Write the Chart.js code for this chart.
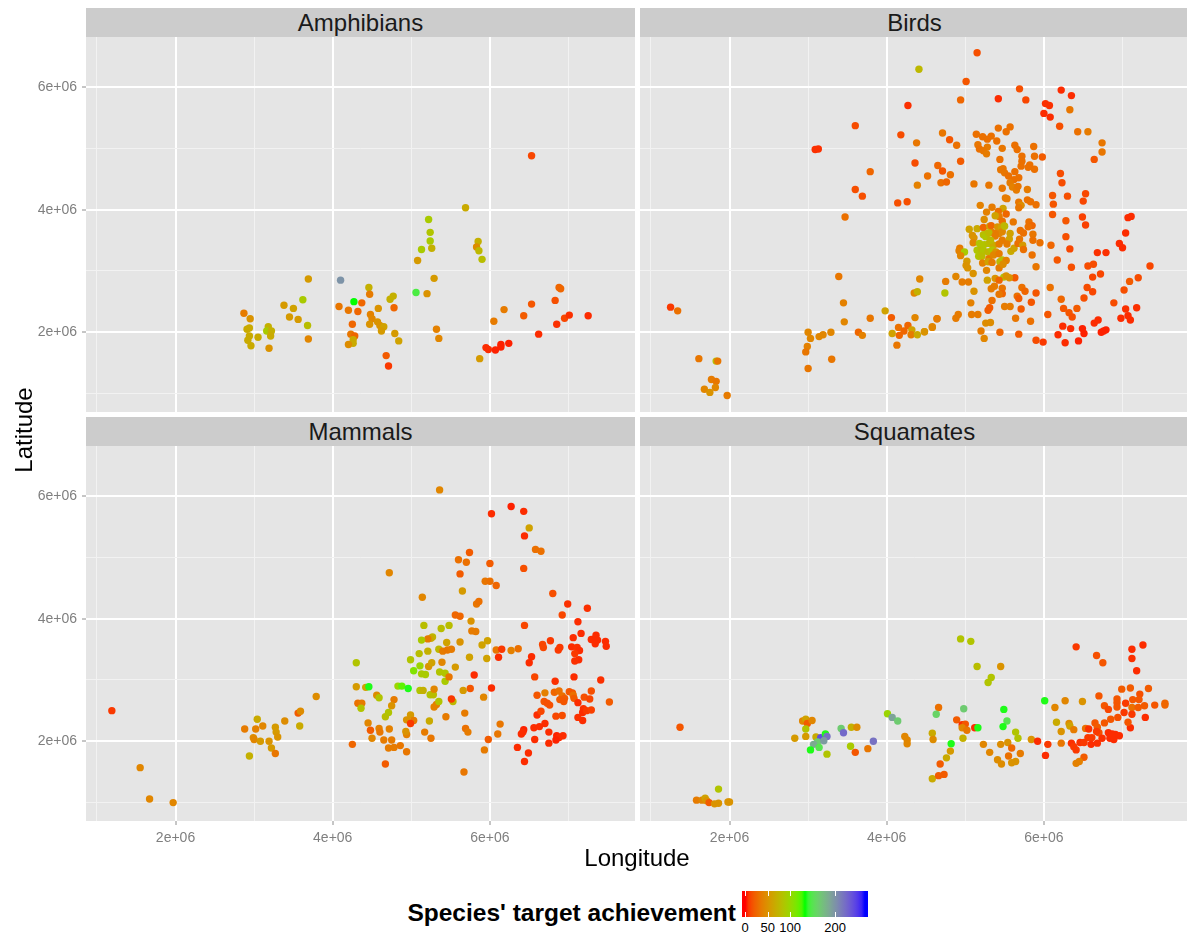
<!DOCTYPE html>
<html>
<head>
<meta charset="utf-8">
<title>Species' target achievement</title>
<script src="https://cdn.jsdelivr.net/npm/chart.js@4.4.1/dist/chart.umd.min.js"></script>
<style>
  body { margin: 0; width: 1187px; height: 938px; background: #fff; position: relative; overflow: hidden;
         font-family: "Liberation Sans", Arial, sans-serif; }
  canvas { position: absolute; }
  .strip { position: absolute; height: 29px; background: #cccccc; color: #1a1a1a;
           font-size: 24px; line-height: 29px; text-align: center; }
  .axis-title { position: absolute; font-size: 24px; line-height: 28px; text-align: center; color: #000; }
  #legend-title { position: absolute; right: 451px; top: 901px; font-size: 24.5px; line-height: 24px; font-weight: bold; white-space: nowrap; }
  #legend-bar { position: absolute; left: 742px; top: 891px; width: 126px; height: 26px; }
  .legend-tick { position: absolute; width: 1px; height: 5px; background: #fff; }
  .legend-label { position: absolute; top: 921px; font-size: 13px; line-height: 14px; width: 40px; margin-left: -20px; text-align: center; color: #000; }
</style>
</head>
<body>
<div class="strip" style="left:86px;top:8px;width:549px">Amphibians</div>
<div class="strip" style="left:640px;top:8px;width:549px">Birds</div>
<div class="strip" style="left:86px;top:417px;width:549px">Mammals</div>
<div class="strip" style="left:640px;top:417px;width:549px">Squamates</div>

<canvas id="amphibians" width="635" height="375" style="left:0;top:37px"></canvas>
<canvas id="birds" width="549" height="375" style="left:640px;top:37px"></canvas>
<canvas id="mammals" width="635" height="415" style="left:0;top:446px"></canvas>
<canvas id="squamates" width="549" height="415" style="left:640px;top:446px"></canvas>

<div class="axis-title" style="left:-76px;top:416px;width:200px;transform:rotate(-90deg)">Latitude</div>
<div class="axis-title" style="left:487px;top:844px;width:300px">Longitude</div>

<div id="legend-title">Species' target achievement</div>
<div id="legend-bar"></div>

<script>
// Points per taxon: [longitude (millions), latitude (millions), target achievement %]
const amphibians = [
  [6.53,4.88,12],[5.69,4.03,66],[5.22,3.84,90],[5.24,3.63,85],[5.24,3.49,90],[5.13,3.35,90],
  [5.26,3.37,70],[5.08,3.17,55],[5.85,3.48,70],[5.83,3.39,46],[5.86,3.33,76],[5.90,3.19,80],
  [5.29,2.88,55],[5.06,2.65,145],[5.20,2.63,50],[5.32,2.05,39],[5.35,1.90,42],[5.87,1.57,55],
  [6.05,2.18,36],[6.18,2.37,36],[5.95,1.75,5],[5.98,1.72,5],[6.07,1.71,3],[6.14,1.80,3],
  [6.14,1.76,3],[6.24,1.82,3],[6.43,2.27,20],[6.53,2.46,18],[6.62,1.97,5],[6.83,2.52,15],
  [6.88,2.73,25],[6.90,2.71,25],[6.85,2.13,6],[6.95,2.23,12],[7.01,2.28,6],[7.25,2.27,5],
  [4.10,2.85,200],[4.27,2.50,133],[4.46,2.73,70],[4.47,2.62,36],[4.37,2.48,25],[4.08,2.42,33],
  [4.20,2.36,33],[4.32,2.34,25],[4.58,2.39,50],[4.73,2.54,70],[4.77,2.59,70],[4.78,2.40,25],
  [4.48,2.29,39],[4.50,2.22,42],[4.47,2.13,50],[4.57,2.17,50],[4.60,2.11,50],[4.65,2.09,60],
  [4.62,2.02,55],[4.79,1.98,55],[4.84,1.86,60],[4.25,2.13,25],[4.23,1.97,33],[4.28,1.94,25],
  [4.26,1.88,66],[4.26,1.82,66],[4.20,1.80,46],[4.68,1.62,20],[4.71,1.45,8],[3.69,2.87,55],
  [3.62,2.53,90],[3.38,2.44,55],[3.50,2.39,60],[3.45,2.25,55],[3.56,2.21,55],[3.68,2.11,80],
  [3.69,1.89,42],[2.87,2.31,36],[2.95,2.22,50],[2.91,2.05,66],[2.94,2.07,66],[2.94,1.94,66],
  [2.92,1.87,66],[2.96,1.78,66],[3.05,1.92,66],[3.18,2.09,70],[3.16,2.02,90],[3.22,2.02,70],
  [3.21,1.94,66],[3.19,1.74,50]
];

const birds = [
  [4.41,6.29,76],[4.27,5.70,6],[3.60,5.37,14],[4.18,5.22,14],[4.38,5.09,33],[3.09,4.98,6],
  [3.13,4.99,6],[4.36,4.76,14],[4.65,4.72,25],[4.52,4.55,30],[4.39,4.40,39],[3.79,4.62,25],
  [3.60,4.33,15],[3.69,4.22,15],[4.14,4.11,15],[4.26,4.13,15],[3.47,3.88,30],[3.39,2.91,33],
  [3.45,2.48,39],[3.46,2.17,42],[4.42,2.87,42],[4.35,2.64,42],[4.39,2.66,70],[3.98,2.35,60],
  [3.79,2.23,33],[4.06,2.24,20],[4.36,2.24,42],[4.64,2.22,36],[4.15,2.08,30],[4.27,2.11,25],
  [4.22,2.02,25],[4.32,2.04,60],[4.07,1.98,60],[4.16,1.95,25],[4.31,1.96,36],[4.39,1.96,66],
  [4.48,2.01,50],[4.58,2.08,42],[4.13,1.79,33],[3.64,2.00,25],[3.69,1.95,39],[3.30,1.56,33],
  [3.29,2.00,42],[3.00,2.00,42],[3.03,1.90,42],[3.14,1.93,42],[3.19,1.96,42],[2.99,1.77,39],
  [2.97,1.68,33],[3.00,1.41,33],[1.25,2.41,8],[1.34,2.35,30],[1.61,1.57,33],[1.83,1.53,80],
  [1.85,1.53,33],[1.77,1.23,36],[1.83,1.20,33],[1.82,1.10,42],[1.68,1.07,42],[1.75,1.02,50],
  [1.97,0.97,36],[4.71,5.25,33],
  [5.15,6.56,15],[5.01,6.09,18],[4.94,5.79,25],[5.69,5.97,15],[5.42,5.81,5],[5.77,5.79,12],
  [6.22,5.95,5],[6.35,5.86,5],[6.02,5.73,6],[6.07,5.70,6],[6.00,5.57,5],[6.08,5.51,5],
  [6.33,5.63,33],[6.20,5.36,15],[6.43,5.27,30],[6.56,5.27,36],[6.74,5.09,33],[6.74,4.94,33],
  [6.64,4.82,18],[4.80,5.14,18],[4.89,5.05,30],[4.94,4.79,20],[4.71,4.63,18],[4.81,4.57,30],
  [4.69,4.44,30],[4.76,4.45,25],[5.14,5.23,30],[5.22,5.19,30],[5.28,5.15,30],[5.33,5.20,30],
  [5.42,5.33,30],[5.52,5.27,30],[5.57,5.35,30],[5.16,5.06,33],[5.28,5.02,36],[5.18,4.99,30],
  [5.23,4.96,33],[5.27,4.91,36],[5.40,5.12,30],[5.47,5.00,33],[5.63,5.05,30],[5.66,4.98,30],
  [5.87,5.03,30],[5.88,4.87,30],[5.98,4.86,20],[5.72,4.87,30],[5.72,4.79,30],[5.71,4.71,30],
  [5.44,4.82,30],[5.82,4.73,30],[5.80,4.69,30],[5.88,4.66,30],[5.45,4.65,33],[5.48,4.67,33],
  [5.50,4.60,33],[5.55,4.55,30],[5.62,4.49,30],[5.68,4.52,30],[5.63,4.62,30],[5.57,4.44,36],
  [5.60,4.37,39],[5.65,4.32,36],[5.67,4.38,33],[5.47,4.35,33],[5.30,4.40,33],[5.11,4.42,33],
  [5.79,4.33,36],[5.51,4.19,36],[5.53,4.18,36],[5.79,4.16,30],[5.83,4.13,30],[5.90,4.08,30],
  [5.68,4.12,33],[5.71,4.07,46],[5.68,4.03,33],[5.19,4.07,39],[5.34,4.04,36],[5.48,4.02,60],
  [6.11,4.23,18],[6.12,4.09,18],[6.21,4.59,14],[6.23,4.44,14],[6.30,4.22,15],[6.53,4.26,12],
  [6.50,4.14,12],[6.11,3.92,18],[6.28,3.82,18],[6.49,3.88,10],[6.53,3.75,10],[7.07,3.87,5],
  [7.11,3.89,5],[7.04,3.62,5],[6.96,3.45,5],[7.00,3.38,5],[6.68,3.30,6],[6.79,3.30,6],
  [7.35,3.08,12],[6.28,3.56,15],[6.33,3.36,12],[6.09,3.42,25],[5.95,3.46,30],[6.17,3.18,18],
  [6.35,3.06,15],[6.56,3.08,14],[6.63,3.11,14],[6.62,2.90,12],[6.72,2.95,12],[7.09,2.83,20],
  [7.20,2.89,14],[7.02,2.69,15],[6.55,2.73,14],[6.62,2.66,12],[6.51,2.56,15],[6.89,2.48,14],
  [7.04,2.38,6],[7.18,2.40,6],[6.98,2.23,5],[7.07,2.27,5],[7.10,2.20,5],[6.64,2.15,5],
  [6.69,2.20,5],[6.73,2.00,3],[6.76,2.02,3],[6.79,2.04,3],[6.49,2.06,3],[6.51,1.98,3],
  [6.44,1.86,3],[6.34,2.06,5],[6.24,2.10,5],[6.18,1.96,5],[6.27,1.83,5],[5.99,1.84,8],
  [5.90,1.87,14],[6.32,2.32,18],[6.36,2.25,15],[6.42,2.39,20],[6.25,2.39,18],[6.22,2.54,25],
  [6.05,2.29,18],[6.08,2.73,30],[5.90,3.07,33],[5.90,2.64,18],[5.83,2.18,30],[5.68,1.97,20],
  [5.44,2.00,25],[5.64,2.23,33],[5.71,2.38,20],[5.84,2.49,18],[5.66,2.59,30],[5.68,2.55,20],
  [5.72,2.73,30],[5.76,2.67,25],[5.63,2.89,20],[5.50,2.42,36],[5.57,2.42,36],[5.31,2.40,20],
  [5.34,2.52,30],[5.47,2.72,33],[5.47,2.63,25],[5.43,2.62,33],[5.33,2.71,36],[5.37,2.75,36],
  [5.28,2.85,60],[5.38,2.88,50],[5.49,2.90,85],[5.52,2.92,50],[5.56,2.89,50],[5.43,2.85,25],
  [5.26,2.15,46],[5.32,2.16,46],[5.16,2.29,36],[5.08,2.29,36],[5.29,2.36,20],[5.20,2.02,36],
  [5.24,1.90,42],[5.07,2.48,39],[5.11,2.67,50],[5.10,2.96,50],[4.96,2.82,36],[5.04,2.82,36],
  [4.88,2.91,42],[4.75,2.83,36],[4.74,2.64,85],[4.64,2.22,36],[4.91,2.29,36],[4.88,2.23,36],
  [4.58,2.09,42],[4.48,2.01,50],
  [4.93,3.37,36],[4.92,3.33,39],[4.99,3.31,90],[4.94,3.25,42],[5.02,3.16,55],[5.01,3.09,50],
  [5.03,3.05,50],[5.05,3.68,60],[5.09,3.58,50],[5.11,3.54,50],[5.10,3.46,42],[5.15,3.69,66],
  [5.15,3.34,85],[5.21,3.35,76],[5.17,3.24,85],[5.24,3.84,46],[5.23,3.71,25],[5.31,3.73,60],
  [5.33,3.74,25],[5.27,3.96,39],[5.42,3.97,30],[5.43,3.89,36],[5.47,3.81,30],[5.38,3.90,60],
  [5.52,3.93,25],[5.61,3.80,33],[5.41,3.72,50],[5.46,3.71,60],[5.49,3.74,60],[5.47,3.64,42],
  [5.43,3.61,42],[5.34,3.63,42],[5.38,3.61,36],[5.28,3.61,76],[5.23,3.59,80],[5.26,3.56,85],
  [5.30,3.62,76],[5.18,3.45,85],[5.24,3.43,85],[5.30,3.45,80],[5.36,3.42,66],[5.43,3.44,36],
  [5.23,3.33,85],[5.29,3.31,76],[5.34,3.34,85],[5.39,3.31,50],[5.21,3.24,80],[5.30,3.20,36],
  [5.36,3.26,42],[5.43,3.28,36],[5.22,3.13,39],[5.29,3.15,60],[5.34,3.14,36],[5.44,3.15,76],
  [5.47,3.18,80],[5.52,3.17,39],[5.27,3.01,42],[5.43,3.05,36],[5.48,3.11,46],[5.50,3.73,76],
  [5.57,3.61,60],[5.56,3.52,60],[5.47,3.50,36],[5.53,3.44,36],[5.58,3.32,66],[5.62,3.37,60],
  [5.67,3.45,30],[5.73,3.42,55],[5.70,3.66,30],[5.74,3.62,30],[5.69,3.52,33],[5.81,3.80,30],
  [5.85,3.74,25],[5.86,3.60,33],[5.86,3.50,30],[5.80,3.72,30],[5.85,3.26,30],[5.74,3.35,30],
  [5.38,3.57,36],[5.32,3.50,76]
];

const mammals = [
  [1.19,2.50,8],[1.55,1.57,42],[1.67,1.06,42],[1.97,1.00,42],[2.88,2.20,36],[3.04,2.36,66],
  [3.02,2.20,39],[3.11,2.25,42],[2.99,2.06,46],[3.00,2.03,42],[3.08,2.00,55],[2.94,1.76,70],
  [3.19,2.00,50],[3.22,1.89,55],[3.27,1.80,33],[3.27,2.23,55],[3.28,2.15,55],[3.30,2.07,50],
  [3.39,2.33,46],[3.56,2.46,20],[3.59,2.49,46],[3.58,2.25,66],[3.79,2.73,46],[4.25,1.95,25],
  [4.30,3.28,85],[4.30,2.89,55],[4.42,2.88,60],[4.46,2.89,135],[4.32,2.62,30],[4.37,2.62,36],
  [4.36,2.54,85],[4.56,2.75,46],[4.59,2.71,85],[4.45,2.30,42],[4.48,2.18,20],[4.50,2.05,42],
  [4.59,2.21,39],[4.60,2.15,33],[4.65,2.02,36],[4.67,2.40,80],[4.67,1.63,20],
  [5.36,6.10,42],[4.72,4.75,42],[5.14,4.35,42],[6.02,5.71,5],[6.27,5.83,3],[6.43,5.75,5],
  [6.50,5.48,60],[6.44,5.35,5],[6.58,5.13,30],[6.65,5.10,30],[5.74,5.08,20],[5.60,4.96,30],
  [5.70,4.92,30],[5.62,4.73,20],[6.00,4.90,20],[6.43,4.82,15],[5.94,4.61,33],[6.00,4.61,30],
  [6.08,4.54,25],[5.65,4.45,55],[5.83,4.24,33],[5.86,4.28,30],[5.56,4.06,25],[5.62,4.04,25],
  [6.80,4.41,15],[6.99,4.24,6],[6.92,4.06,12],[7.24,4.17,6],[7.12,3.95,5],[7.16,3.76,5],
  [7.06,3.69,5],[7.29,3.66,5],[7.35,3.73,5],[7.37,3.65,5],[7.34,3.59,5],[7.47,3.63,5],
  [7.48,3.55,5],[7.04,3.54,5],[7.11,3.53,6],[7.14,3.48,5],[7.08,3.43,8],[7.13,3.33,5],
  [7.08,3.31,6],[6.77,3.64,8],[6.67,3.58,12],[6.68,3.53,12],[6.89,3.53,8],[6.87,3.49,8],
  [6.44,3.89,12],[6.53,3.38,5],[6.50,3.28,5],[6.36,3.51,30],[6.27,3.48,39],[6.08,3.49,33],
  [6.15,3.50,8],[6.11,3.37,5],[6.57,3.05,12],[6.83,2.98,6],[7.07,3.05,5],[7.41,3.00,6],
  [5.80,3.08,5],[6.02,2.87,5],[5.75,2.86,18],[5.92,2.72,42],[6.60,2.75,18],[6.70,2.79,39],
  [6.69,2.65,18],[6.76,2.59,15],[6.73,2.62,15],[6.82,2.80,25],[6.88,2.82,30],[6.92,2.74,30],
  [6.89,2.68,20],[6.95,2.70,20],[6.94,2.65,18],[7.01,2.81,18],[7.05,2.79,18],[7.06,2.75,30],
  [7.07,2.70,20],[7.20,2.72,15],[7.27,2.69,12],[7.29,2.82,15],[7.52,2.64,20],[7.12,2.63,5],
  [7.19,2.53,6],[7.18,2.47,5],[7.23,2.50,8],[7.29,2.51,10],[7.18,2.34,5],[7.12,2.39,6],
  [6.60,2.43,5],[6.65,2.49,12],[6.70,2.29,5],[6.92,2.42,14],[6.84,2.41,12],[6.56,2.22,5],
  [6.63,2.24,5],[6.43,2.19,3],[6.40,2.12,5],[6.42,2.15,5],[6.75,2.15,5],[6.85,2.09,3],
  [6.93,2.09,5],[6.88,2.06,5],[6.84,2.02,3],[6.75,1.97,5],[6.57,2.03,5],[6.35,1.90,5],
  [6.49,1.81,5],[6.44,1.67,5],[5.98,2.03,20],[5.93,1.86,36],[5.67,1.50,33],[6.10,2.12,33],
  [6.13,2.28,33],[5.69,2.21,30],[5.72,2.15,36],[5.68,2.46,36],[5.44,2.40,36],[5.25,2.05,33],
  [5.17,2.15,36],
  [5.16,3.89,80],[5.27,3.70,76],[5.25,3.68,66],[5.38,3.84,80],[5.48,3.89,80],[5.21,3.67,36],
  [5.13,3.65,90],[5.45,3.61,60],[5.62,3.62,50],[5.77,3.80,36],[5.82,3.79,36],[5.76,3.96,50],
  [5.10,3.43,80],[5.21,3.47,70],[5.35,3.50,76],[5.40,3.47,36],[5.46,3.49,33],[5.51,3.50,36],
  [4.99,3.33,85],[5.11,3.23,98],[5.13,3.10,90],[5.18,3.09,90],[5.03,3.15,110],[5.22,3.22,50],
  [5.26,3.28,60],[5.39,3.29,42],[5.36,3.13,85],[5.43,3.11,85],[5.43,2.98,90],[5.48,3.05,33],
  [5.56,3.21,55],[5.74,3.37,60],[5.90,3.57,60],[5.97,3.64,60],[5.96,3.35,60],[4.83,2.90,98],
  [4.88,2.90,122],[4.96,2.86,135],[5.11,2.83,85],[5.15,2.83,70],[5.24,2.76,85],[5.28,2.76,80],
  [5.29,2.85,42],[5.32,2.60,36],[5.29,2.56,39],[5.35,2.65,85],[5.53,2.65,76],[5.51,2.69,8],
  [5.66,2.83,55],[4.78,2.68,36],[4.75,2.58,50],[4.71,2.47,85],[4.99,2.43,55],[4.94,2.35,50],
  [5.03,2.34,36],[4.94,2.11,39],[4.99,2.29,8],[4.93,2.16,50],[5.23,2.33,66],[4.72,2.20,39],
  [4.75,2.02,36],[4.71,1.89,36],[4.78,1.90,36],[4.86,1.93,33],[4.94,1.83,33]
];

const squamates = [
  [1.37,2.23,18],[1.86,1.22,85],[1.58,1.04,36],[1.65,1.04,42],[1.69,1.07,60],[1.71,1.03,50],
  [1.74,1.00,20],[1.81,0.98,50],[1.86,0.99,50],[1.98,1.01,50],[2.00,1.01,50],
  [2.93,2.33,42],[2.97,2.36,60],[2.99,2.29,20],[3.05,2.34,42],[2.97,2.20,85],[2.97,2.08,55],
  [2.83,2.05,55],[3.10,2.07,66],[3.16,2.06,240],[3.22,2.12,135],[3.24,2.08,220],[3.12,1.99,165],
  [3.07,1.95,185],[3.20,2.01,195],[3.14,1.90,150],[3.03,1.86,135],[3.24,1.79,85],[3.42,2.21,165],
  [3.45,2.14,225],[3.55,2.23,70],[3.62,2.23,46],[3.54,1.92,90],[3.60,1.82,18],[3.76,1.88,33],
  [3.83,2.00,220],[4.01,2.45,98],[4.07,2.39,190],[4.14,2.33,165],[4.23,2.08,42],[4.26,2.02,42],
  [4.26,1.96,42],[4.58,2.13,66],[4.59,2.03,46],[4.58,1.39,66],[4.66,1.44,20],[4.68,1.63,20],
  [4.66,2.55,30],[4.63,2.44,160],
  [4.94,3.67,85],[5.07,3.63,85],[5.15,3.22,80],[5.45,3.22,50],[5.33,3.04,85],[5.29,2.96,85],
  [4.98,2.53,165],[4.89,2.35,20],[4.96,2.27,5],[5.00,2.28,18],[4.96,2.22,42],[5.02,2.18,33],
  [5.12,2.22,5],[5.16,2.22,135],[4.97,2.05,70],[4.82,1.96,135],[4.81,1.84,55],[4.76,1.73,66],
  [4.73,1.46,20],[5.49,2.52,135],[5.53,2.33,150],[5.48,2.24,135],[5.64,2.15,85],[5.67,2.05,85],
  [5.23,1.95,42],[5.31,1.82,42],[5.41,1.70,46],[5.46,1.63,46],[5.45,1.95,46],[5.54,1.98,50],
  [5.59,1.89,25],[5.55,1.76,30],[5.70,1.80,36],[5.59,1.65,50],[5.64,1.67,50],[5.84,2.03,50],
  [5.92,2.00,5],[6.05,1.95,8],[6.02,1.77,5],[6.01,2.66,135],[6.14,2.55,42],[6.27,2.66,42],
  [6.49,2.65,50],[6.16,2.31,66],[6.32,2.29,46],[6.33,2.25,60],[6.22,2.16,50],[6.38,2.19,36],
  [6.22,1.97,33],[6.35,1.97,6],[6.38,1.91,8],[6.41,1.86,8],[6.51,1.74,20],[6.45,1.67,39],
  [6.41,1.64,39],[6.46,1.98,6],[6.51,1.98,8],[6.41,3.54,8],[6.67,3.40,15],[6.75,3.28,18],
  [7.12,3.50,5],[7.12,3.35,6],[7.26,3.57,5],[7.18,3.15,5],
  [6.70,2.74,18],[6.77,2.58,18],[6.82,2.52,12],[6.93,2.69,18],[6.93,2.63,18],[6.93,2.56,18],
  [6.99,2.85,20],[7.10,2.87,20],[7.22,2.77,15],[7.33,2.86,20],[7.13,2.68,18],[7.21,2.68,18],
  [7.04,2.62,8],[7.12,2.55,30],[7.20,2.55,20],[7.28,2.58,20],[7.41,2.59,18],[7.54,2.62,25],
  [7.54,2.59,25],[7.29,2.39,5],[7.10,2.22,5],[7.12,2.44,8],[7.07,2.31,18],[7.02,2.47,8],
  [6.94,2.39,15],[6.85,2.36,18],[6.77,2.30,18],
  [6.53,2.21,30],[6.65,2.30,18],[6.68,2.23,20],[6.57,2.20,6],[6.70,2.14,15],[6.56,2.06,8],
  [6.61,2.06,8],[6.67,2.16,8],[6.68,1.97,6],[6.74,2.05,6],[6.60,1.95,5],[6.82,2.14,5],
  [6.87,2.12,5],[6.91,2.11,5],[6.96,2.09,5],[6.84,2.05,5],[6.89,2.03,5],[6.87,2.10,5]
];

const lonTicks = [1e6, 2e6, 3e6, 4e6, 5e6, 6e6, 7e6];
const latTicks = [1e6, 2e6, 3e6, 4e6, 5e6, 6e6];
const legendBreaks = [0, 50, 100, 200];
const achievementLimits = [0, 266];

const LON_RANGE = [0.861e6, 7.846e6];
const LAT_RANGE = [0.70e6, 6.816e6];

// ---- colour scale: red -> green -> blue, interpolated in CIELAB like ggplot ----
function toLinear(c) { c /= 255; return c <= 0.04045 ? c / 12.92 : Math.pow((c + 0.055) / 1.055, 2.4); }
function fromLinear(c) { c = c <= 0.0031308 ? 12.92 * c : 1.055 * Math.pow(c, 1 / 2.4) - 0.055; return Math.round(Math.min(1, Math.max(0, c)) * 255); }
function rgbToLab(rgb) {
  const [r, g, b] = rgb.map(toLinear);
  const x = (0.4124 * r + 0.3576 * g + 0.1805 * b) / 0.95047;
  const y = (0.2126 * r + 0.7152 * g + 0.0722 * b);
  const z = (0.0193 * r + 0.1192 * g + 0.9505 * b) / 1.08883;
  const f = t => t > 0.008856 ? Math.cbrt(t) : 7.787 * t + 16 / 116;
  return [116 * f(y) - 16, 500 * (f(x) - f(y)), 200 * (f(y) - f(z))];
}
function labToRgb([L, a, b]) {
  const fy = (L + 16) / 116, fx = fy + a / 500, fz = fy - b / 200;
  const inv = t => t * t * t > 0.008856 ? t * t * t : (t - 16 / 116) / 7.787;
  const x = inv(fx) * 0.95047, y = inv(fy), z = inv(fz) * 1.08883;
  const r = 3.2406 * x - 1.5372 * y - 0.4986 * z;
  const g = -0.9689 * x + 1.8758 * y + 0.0415 * z;
  const bl = 0.0557 * x - 0.2040 * y + 1.0570 * z;
  return [fromLinear(r), fromLinear(g), fromLinear(bl)];
}
const rampLab = [[255, 0, 0], [0, 255, 0], [0, 0, 255]].map(rgbToLab);

function achievementColour(v) {
  let t = (v - achievementLimits[0]) / (achievementLimits[1] - achievementLimits[0]);
  t = Math.min(1, Math.max(0, t)) * (rampLab.length - 1);
  const i = Math.min(rampLab.length - 2, Math.floor(t)), f = t - i;
  const lab = rampLab[i].map((c, k) => c + (rampLab[i + 1][k] - c) * f);
  const [r, g, b] = labToRgb(lab);
  return `rgb(${r},${g},${b})`;
}

// ---- panels ----
const panelBackground = {
  id: 'panelBackground',
  beforeDraw(chart) {
    const { ctx, chartArea: a } = chart;
    ctx.save();
    ctx.fillStyle = '#e5e5e5';
    ctx.fillRect(a.left, a.top, a.right - a.left, a.bottom - a.top);
    ctx.restore();
  }
};

const isMajor = v => Math.round(v / 1e6) % 2 === 0;
const tickFont = { family: '"Liberation Sans", Arial, sans-serif', size: 14 };

function axisOptions(range, values, showLabels, size) {
  return {
    type: 'linear',
    min: range[0],
    max: range[1],
    afterBuildTicks: s => { s.ticks = values.map(v => ({ value: v })); },
    afterFit: s => {
      size(s);
      // labels may not push the panel area around
      s.paddingTop = s.paddingBottom = s.paddingLeft = s.paddingRight = 0;
    },
    border: { display: false },
    grid: {
      drawTicks: showLabels,
      tickLength: 4,
      tickWidth: 1,
      color: c => (c.tick && isMajor(c.tick.value)) ? '#ffffff' : '#f2f2f2',
      lineWidth: c => (c.tick && isMajor(c.tick.value)) ? 2 : 1,
      tickColor: c => (c.tick && isMajor(c.tick.value)) ? '#8c8c8c' : 'rgba(0,0,0,0)'
    },
    ticks: {
      display: showLabels,
      autoSkip: false,
      maxRotation: 0,
      padding: 5,
      color: '#7f7f7f',
      font: tickFont,
      callback: v => isMajor(v) ? `${Math.round(v / 1e6)}e+06` : ''
    }
  };
}

function drawPanel(id, points, showX, showY) {
  const canvas = document.getElementById(id);
  const xAxisH = showX ? canvas.height - 375 : 0;
  const colours = points.map(p => achievementColour(p[2]));
  new Chart(canvas, {
    type: 'scatter',
    data: {
      datasets: [{
        data: points.map(p => ({ x: p[0] * 1e6, y: p[1] * 1e6 })),
        pointBackgroundColor: colours,
        pointBorderColor: colours,
        pointBorderWidth: 0,
        pointRadius: 3.7,
        pointHoverRadius: 3.7
      }]
    },
    options: {
      responsive: false,
      animation: false,
      devicePixelRatio: 1,
      layout: { padding: 0, autoPadding: false },
      plugins: { legend: { display: false }, tooltip: { enabled: false } },
      scales: {
        x: axisOptions(LON_RANGE, lonTicks, showX, s => { s.height = xAxisH; }),
        y: axisOptions(LAT_RANGE, latTicks, showY, s => { s.width = showY ? 86 : 0; })
      }
    },
    plugins: [panelBackground]
  });
}

drawPanel('amphibians', amphibians, false, true);
drawPanel('birds', birds, false, false);
drawPanel('mammals', mammals, true, true);
drawPanel('squamates', squamates, true, false);

// ---- colour bar legend ----
const bar = document.getElementById('legend-bar');
const BAR_LEFT = 742, BAR_W = 126, BAR_TOP = 891, BAR_H = 26;
const barPos = v => BAR_W * (0.025 + 0.95 * (v - achievementLimits[0]) / (achievementLimits[1] - achievementLimits[0]));
const stops = [];
for (let i = 0; i <= 40; i++) {
  const p = i / 40;
  const v = achievementLimits[0] + (p - 0.025) / 0.95 * (achievementLimits[1] - achievementLimits[0]);
  stops.push(`${achievementColour(v)} ${(p * 100).toFixed(1)}%`);
}
bar.style.background = `linear-gradient(to right, ${stops.join(', ')})`;
legendBreaks.forEach(v => {
  const x = BAR_LEFT + barPos(v);
  [BAR_TOP, BAR_TOP + BAR_H - 5].forEach(top => {
    const t = document.createElement('div');
    t.className = 'legend-tick';
    t.style.left = `${Math.round(x)}px`;
    t.style.top = `${top}px`;
    document.body.appendChild(t);
  });
  const label = document.createElement('div');
  label.className = 'legend-label';
  label.style.left = `${x}px`;
  label.textContent = v;
  document.body.appendChild(label);
});
</script>
</body>
</html>
